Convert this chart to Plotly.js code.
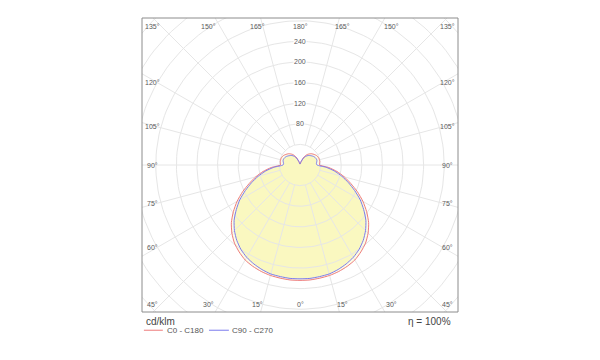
<!DOCTYPE html>
<html>
<head>
<meta charset="utf-8">
<script src="https://cdn.plot.ly/plotly-3.0.1.min.js"></script>
<style>html,body{margin:0;padding:0;background:#fff;}#chart{width:600px;height:360px;}</style>
</head>
<body>
<div id="chart"></div>
<script>
// ---- data (cd/klm) ----
const gammaDeg = [0,5,10,15,20,25,30,35,40,45,50,55,60,65,70,75,80,85,90,95,100,105,110,115,120,125,130,135,140,145,150,155,160,165,170,175,180];
const c0c180  = [224,224,223,222,220,217,213,206,198,187,174,158,141,123,105,89,73,56,38,38,39,39,39,38,37,35,33,31,28,25,21,15,9,5,3,2,2];
const c90c270 = [221,221,220,219,216,212,207,200,191,180,167,151,135,117,100,84,68,51,33,32,33,34,34,33,32,30,28,26,24,21,18,13,8,5,3,2,2];
const seriesNames = ['C0 - C180','C90 - C270'];
const ringValues = [40,80,120,160,200,240,280,320,360,400,440];
const ringLabels = [80,120,160,200,240];
const spokeAngles = [15,30,45,60,75,90,105,120,135,150,165];
const topLabelAngles = [-45,-30,-15,0,15,30,45];     // offset from 180°
const bottomLabelAngles = [-45,-30,-15,0,15,30,45];  // offset from 0°
const sideLabelAngles = [60,75,90,105,120];
const unitLabel = 'cd/klm';
const efficiencyLabel = '\u03b7 = 100%';

const d2r = Math.PI/180;
function curveXY(vals){
  const x=[], y=[];
  for(let i=0;i<gammaDeg.length;i++){ const g=gammaDeg[i]*d2r; x.push(vals[i]*Math.sin(g)); y.push(-vals[i]*Math.cos(g)); }
  for(let i=gammaDeg.length-1;i>=0;i--){ const g=gammaDeg[i]*d2r; x.push(-vals[i]*Math.sin(g)); y.push(-vals[i]*Math.cos(g)); }
  return {x,y};
}
const red = curveXY(c0c180), blue = curveXY(c90c270);
const redCol = '#ee7b7b', blueCol = '#7b7bee', gridCol = '#e6e6e6';

const traces = [];
traces.push({x:red.x,y:red.y,mode:'lines',fill:'toself',fillcolor:'#fdfce6',line:{width:0,color:redCol,shape:'spline',smoothing:0.6},hoverinfo:'skip',showlegend:false});
traces.push({x:blue.x,y:blue.y,mode:'lines',fill:'toself',fillcolor:'#faf8c0',line:{width:0,color:blueCol,shape:'spline',smoothing:0.6},hoverinfo:'skip',showlegend:false});
// grid rings
ringValues.forEach(r=>{
  const x=[],y=[];
  for(let a=0;a<=360;a+=2){x.push(r*Math.cos(a*d2r));y.push(r*Math.sin(a*d2r));}
  traces.push({x,y,mode:'lines',line:{color:gridCol,width:1},hoverinfo:'skip',showlegend:false});
});
// grid spokes
spokeAngles.forEach(a=>{
  [1,-1].forEach(s=>{
    const g=a*d2r, r0=40, r1=600;
    traces.push({x:[s*r0*Math.sin(g),s*r1*Math.sin(g)],y:[-r0*Math.cos(g),-r1*Math.cos(g)],mode:'lines',line:{color:gridCol,width:1},hoverinfo:'skip',showlegend:false});
  });
});
traces.push({x:red.x,y:red.y,mode:'lines',name:seriesNames[0],line:{color:redCol,width:1,shape:'spline',smoothing:0.6},showlegend:false});
traces.push({x:blue.x,y:blue.y,mode:'lines',name:seriesNames[1],line:{color:blueCol,width:1,shape:'spline',smoothing:0.6},showlegend:false});

const lblFont = {family:'Liberation Sans, Arial, sans-serif',size:7,color:'#5a5a5a'};
const ann = [];
const clampX = v=>Math.max(-287,Math.min(287,v));
topLabelAngles.forEach(a=>{
  ann.push({x:clampX(307*Math.tan(a*d2r)),y:268,xref:'x',yref:'y',text:(180-Math.abs(a))+'°',showarrow:false,font:lblFont});
});
bottomLabelAngles.forEach(a=>{
  ann.push({x:clampX(307*Math.tan(a*d2r)),y:-270,xref:'x',yref:'y',text:Math.abs(a)+'°',showarrow:false,font:lblFont});
});
sideLabelAngles.forEach(a=>{
  [1,-1].forEach(s=>{
    ann.push({x:s*287,y:-278*Math.tan((90-a)*d2r),xref:'x',yref:'y',text:a+'°',showarrow:false,font:lblFont});
  });
});
ringLabels.forEach(r=>{
  ann.push({x:0,y:r,xref:'x',yref:'y',text:String(r),showarrow:false,font:lblFont,bgcolor:'#ffffff',borderpad:0});
});
const txtFont = {family:'Liberation Sans, Arial, sans-serif',size:10,color:'#444'};
ann.push({x:0.005,y:-0.031,xref:'paper',yref:'paper',xanchor:'left',yanchor:'middle',text:unitLabel,showarrow:false,font:txtFont});
ann.push({x:0.985,y:-0.031,xref:'paper',yref:'paper',xanchor:'right',yanchor:'middle',text:efficiencyLabel,showarrow:false,font:txtFont});
const legFont = {family:'Liberation Sans, Arial, sans-serif',size:8,color:'#555'};
ann.push({x:0.072,y:-0.062,xref:'paper',yref:'paper',xanchor:'left',yanchor:'middle',text:seriesNames[0],showarrow:false,font:legFont});
ann.push({x:0.28,y:-0.062,xref:'paper',yref:'paper',xanchor:'left',yanchor:'middle',text:seriesNames[1],showarrow:false,font:legFont});
const shapes = [
  {type:'line',xref:'paper',yref:'paper',x0:0.006,x1:0.066,y0:-0.062,y1:-0.062,line:{color:redCol,width:1}},
  {type:'line',xref:'paper',yref:'paper',x0:0.212,x1:0.275,y0:-0.062,y1:-0.062,line:{color:blueCol,width:1}},
  {type:'rect',xref:'paper',yref:'paper',x0:0,x1:1,y0:0,y1:1,line:{color:'#8c8c8c',width:1},layer:'above'}
];

const layout = {
  width:600,height:360,
  margin:{l:142,r:142,t:18,b:48},
  paper_bgcolor:'#fff',plot_bgcolor:'#fff',
  xaxis:{range:[-306.8,306.8],visible:false,fixedrange:true},
  yaxis:{range:[-285.4,285.4],visible:false,fixedrange:true},
  annotations:ann,shapes:shapes,showlegend:false
};
Plotly.newPlot('chart',traces,layout,{staticPlot:true,displayModeBar:false});
</script>
</body>
</html>
